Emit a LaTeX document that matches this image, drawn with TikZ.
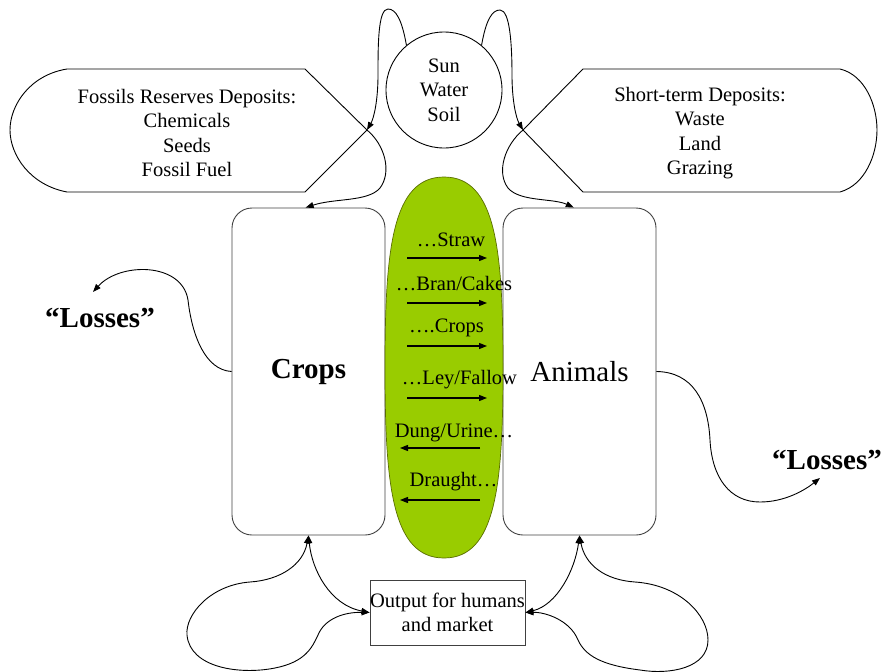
\documentclass[tikz,border=0pt]{standalone}
\usepackage{fontspec}
\setmainfont{Liberation Serif}
\usetikzlibrary{arrows.meta}
\definecolor{feedgreen}{RGB}{153,204,0}
\definecolor{feededge}{RGB}{90,110,0}

\begin{document}
\begin{tikzpicture}[x=1pt, y=-1pt, line width=0.9pt,
	font=\fontsize{20.5}{24.5}\selectfont,
	>={Triangle[length=8pt, width=6pt]},
	box/.style={draw=black!75, rounded corners=20pt, minimum width=153pt, minimum height=327pt, inner sep=0pt},
	bigtext/.style={font=\fontsize{29}{34}\selectfont},
	bigbold/.style={font=\fontsize{29}{34}\selectfont\bfseries},
	flow/.style={->, line width=1.1pt}]
	\useasboundingbox (0,0) rectangle (887,672);

	% deposit shapes on both sides of the sun
	\draw (67,69) -- (305,69) -- (367,130) -- (305,192) -- (67,192)
		.. controls (30,185) and (10,155) .. (10,130) .. controls (10,105) and (30,75) .. (67,69) -- cycle;
	\draw (840,69) -- (583,69) -- (523,130) -- (583,192) -- (840,192)
		.. controls (865,185) and (877,155) .. (877,130) .. controls (877,105) and (865,75) .. (840,69) -- cycle;
	\coordinate (fosTip) at (367,130);
	\coordinate (depTip) at (523,130);
	\node[align=center] (fos) at (187,133) {Fossils Reserves Deposits:\\Chemicals\\Seeds\\Fossil Fuel};
	\node[align=center] (dep) at (700,133) {Short-term Deposits:\\Waste\\Land\\Grazing};

	\node[circle, draw, minimum size=116pt, inner sep=0pt, align=center] (sun) at (444,90) {Sun\\Water\\Soil};

	\node[box, bigbold] (crops) at (308.5,371.5) {Crops};
	\node[box, bigtext] (animals) at (579.5,371.5) {Animals};

	% green exchange area
	\filldraw[fill=feedgreen, draw=feededge, line width=0.7pt] (444,177)
		.. controls (496,177) and (503,250) .. (503,367.5)
		.. controls (503,485) and (496,558) .. (444,558)
		.. controls (392,558) and (385,485) .. (385,367.5)
		.. controls (385,250) and (392,177) .. (444,177) -- cycle;

	\coordinate (a1) at (407,258); \coordinate (b1) at (487,258);
	\coordinate (a2) at (407,303); \coordinate (b2) at (487,303);
	\coordinate (a3) at (407,346); \coordinate (b3) at (487,346);
	\coordinate (a4) at (407,398); \coordinate (b4) at (487,398);
	\coordinate (a5) at (400,448); \coordinate (b5) at (480,448);
	\coordinate (a6) at (400,500); \coordinate (b6) at (480,500);
	\draw[flow] (a1) -- (b1);
	\draw[flow] (a2) -- (b2);
	\draw[flow] (a3) -- (b3);
	\draw[flow] (a4) -- (b4);
	\draw[flow] (b5) -- (a5);
	\draw[flow] (b6) -- (a6);
	\node (t1) at (451,240) {…Straw};
	\node (t2) at (454,284) {…Bran/Cakes};
	\node (t3) at (446.5,328) {….Crops};
	\node (t4) at (459.5,380) {…Ley/Fallow};
	\node (t5) at (454,433) {Dung/Urine…};
	\node (t6) at (453.5,482) {Draught…};

	\node[draw=black!75, minimum width=155pt, minimum height=65pt, inner sep=0pt, align=center] (out) at (447.5,612.5) {Output for humans\\and market};

	\node[bigbold] (lossL) at (100,318) {“Losses”};
	\node[bigbold] (lossR) at (827,460) {“Losses”};
	\coordinate (lossLtip) at (93,292);
	\coordinate (lossRtip) at (820,478);

	% loops from the sun down to the boxes
	\draw[->] (sun.130) .. controls (402,20) and (396,9) .. (388,9)
		.. controls (378,9) and (378,45) .. (378,75) .. controls (378,100) and (374,118) .. (fosTip);
	\draw[->] (fosTip) .. controls (385,145) and (392,172) .. (380,188)
		.. controls (368,202) and (335,198) .. (crops.91.5);
	\draw[->] (sun.50) .. controls (486,20) and (492,10) .. (500,10)
		.. controls (510,10) and (512,45) .. (512,75) .. controls (512,100) and (516,118) .. (depTip);
	\draw[->] (depTip) .. controls (505,145) and (496,172) .. (508,188)
		.. controls (520,202) and (553,198) .. (animals.92.3);

	% losses
	\draw[->] (crops.west) .. controls (205,370) and (192,335) .. (188,300)
		.. controls (182,262) and (120,262) .. (lossLtip);
	\draw[->] (animals.east) .. controls (692,372) and (708,400) .. (710,440)
		.. controls (712,478) and (730,502) .. (760,502) .. controls (785,502) and (805,490) .. (lossRtip);

	% output loops
	\draw[<->] (crops.south) .. controls (312,570) and (330,605) .. (out.west);
	\draw[<->] (crops.south) .. controls (303,565) and (280,580) .. (250,582)
		.. controls (210,585) and (185,615) .. (187,635) .. controls (190,668) and (240,675) .. (275,668)
		.. controls (305,662) and (312,648) .. (318,635) .. controls (325,618) and (345,612) .. (out.west);
	\draw[<->] (animals.south) .. controls (575,570) and (557,605) .. (out.east);
	\draw[<->] (animals.south) .. controls (585,565) and (605,580) .. (635,582)
		.. controls (680,585) and (708,615) .. (708,640) .. controls (708,668) and (670,675) .. (640,670)
		.. controls (600,665) and (585,655) .. (578,640) .. controls (570,620) and (545,612) .. (out.east);
\end{tikzpicture}
\end{document}
